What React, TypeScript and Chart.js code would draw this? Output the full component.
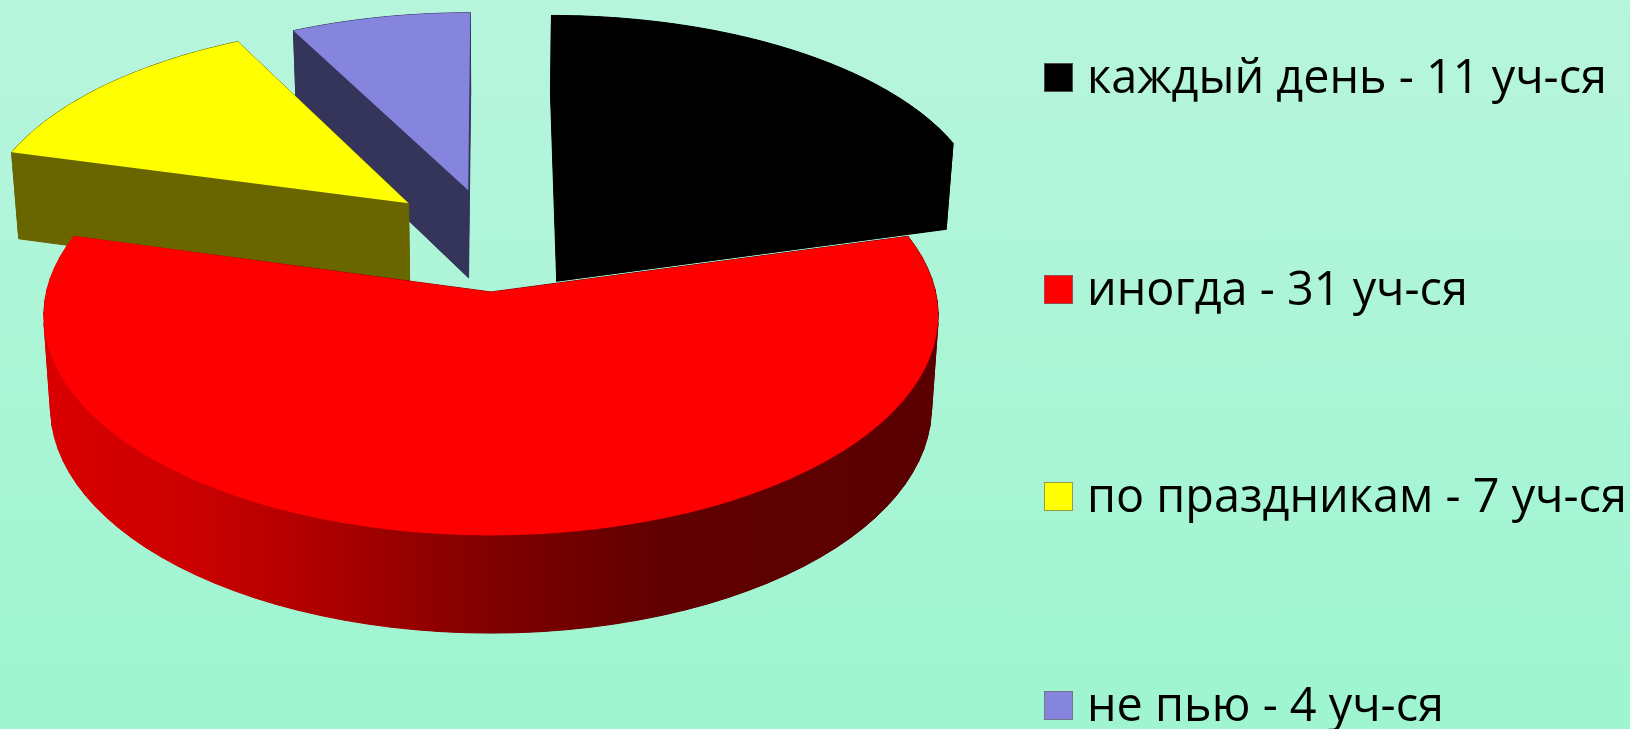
import React, { useEffect, useRef } from "react";
import { Chart, registerables } from "chart.js";

Chart.register(...registerables);

// Survey answers: how many pupils gave each answer.
const answers = ["каждый день", "иногда", "по праздникам", "не пью"];
const pupils = [11, 31, 7, 4];
const unitLabel = "уч-ся";

const topColors = ["#000000", "#FF0000", "#FFFF00", "#8585DD"];
const sideColors = ["#000000", "#A00000", "#696600", "#35355C"];
// Explosion of each slice, in percent of the pie radius.
const explode = [26, 27, 25, 23];
// Back-to-front order for the extruded walls.
const wallOrder = [3, 2, 0, 1];

const redWallStops: [number, string][] = [
  [0.0, "#D80000"],
  [0.15, "#CC0000"],
  [0.3, "#AE0000"],
  [0.5, "#800000"],
  [0.7, "#600000"],
  [1.0, "#5A0000"],
];

// Perspective camera for the tilted pie: unit-disc coordinates to canvas pixels.
const camera = {
  cx: 491,
  cy: 235,
  rx: 432,
  ry: 205,
  depth: 89,
  persp: 0.105,
  depthPersp: 0.07,
  shrink: 0.985,
};

function project(u: number, v: number, h: number): [number, number] {
  const w = 1 - camera.persp * v;
  const sx = h ? camera.shrink : 1;
  return [
    camera.cx + (camera.rx * u * sx) / w,
    camera.cy + (camera.ry * v) / w + (h * camera.depth) / (1 - camera.depthPersp * v),
  ];
}

function outline(arc: any, h: number): [number, number][] {
  const { startAngle, endAngle } = arc.getProps(["startAngle", "endAngle"], true);
  const mid = (startAngle + endAngle) / 2;
  const e = arc.options.offset / 100;
  const ox = Math.cos(mid) * e;
  const oy = Math.sin(mid) * e;
  const pts: [number, number][] = [project(ox, oy, h)];
  const steps = 72;
  for (let i = 0; i <= steps; i++) {
    const a = startAngle + ((endAngle - startAngle) * i) / steps;
    pts.push(project(ox + Math.cos(a), oy + Math.sin(a), h));
  }
  return pts;
}

function tracePolygon(ctx: CanvasRenderingContext2D, pts: [number, number][]) {
  ctx.beginPath();
  pts.forEach(([x, y], i) => (i ? ctx.lineTo(x, y) : ctx.moveTo(x, y)));
  ctx.closePath();
}

// Replaces the flat arcs with extruded slices built from the library's arc elements.
const tiltedPie = {
  id: "tiltedPie",
  beforeDatasetsDraw(chart: any) {
    const { ctx } = chart;
    const arcs = chart.getDatasetMeta(0).data;
    ctx.save();
    ctx.lineJoin = "round";
    wallOrder.forEach((i) => {
      const top = outline(arcs[i], 0);
      const bottom = outline(arcs[i], 1);
      let fill: any = sideColors[i];
      if (i === 1) {
        const g = ctx.createLinearGradient(camera.cx - camera.rx, 0, camera.cx + camera.rx, 0);
        redWallStops.forEach(([p, c]) => g.addColorStop(p, c));
        fill = g;
      }
      ctx.fillStyle = fill;
      ctx.strokeStyle = fill;
      ctx.lineWidth = 1;
      tracePolygon(ctx, bottom);
      ctx.fill();
      for (let k = 0; k < top.length; k++) {
        const n = (k + 1) % top.length;
        tracePolygon(ctx, [top[k], top[n], bottom[n], bottom[k]]);
        ctx.fill();
        ctx.stroke();
      }
    });
    arcs.forEach((arc: any, i: number) => {
      ctx.fillStyle = topColors[i];
      tracePolygon(ctx, outline(arc, 0));
      ctx.fill();
    });
    ctx.restore();
    return false;
  },
};

const legendTop = [77, 289, 496, 705];

export default function App() {
  const canvasRef = useRef<HTMLCanvasElement>(null);

  useEffect(() => {
    const chart = new Chart(canvasRef.current as HTMLCanvasElement, {
      type: "pie",
      data: {
        labels: answers,
        datasets: [{ data: pupils, backgroundColor: topColors, offset: explode, borderWidth: 0 }],
      },
      options: {
        responsive: false,
        animation: false,
        devicePixelRatio: 1,
        events: [],
        plugins: { legend: { display: false }, tooltip: { enabled: false } },
      },
      plugins: [tiltedPie],
    } as any);
    return () => chart.destroy();
  }, []);

  return (
    <div
      style={{
        position: "fixed",
        left: 0,
        top: 0,
        width: 1630,
        height: 729,
        overflow: "hidden",
        background: "linear-gradient(180deg, #B7F5DD 0%, #9EF5D0 100%)",
      }}
    >
      <canvas ref={canvasRef} width={1630} height={729} style={{ position: "absolute", left: 0, top: 0 }} />
      {answers.map((name, i) => (
        <div
          key={name}
          style={{
            position: "absolute",
            left: 1044,
            top: legendTop[i] - 30,
            height: 60,
            display: "flex",
            alignItems: "center",
            whiteSpace: "nowrap",
            fontFamily: '"Open Sans", sans-serif',
            fontSize: 46.8,
            color: "#000",
          }}
        >
          <span
            style={{
              width: 29,
              height: 29,
              marginRight: 14,
              boxSizing: "border-box",
              background: topColors[i],
              border: "1px solid rgba(110,110,110,0.7)",
            }}
          />
          <span style={{ position: "relative", top: -2 }}>{`${name} - ${pupils[i]} ${unitLabel}`}</span>
        </div>
      ))}
    </div>
  );
}
